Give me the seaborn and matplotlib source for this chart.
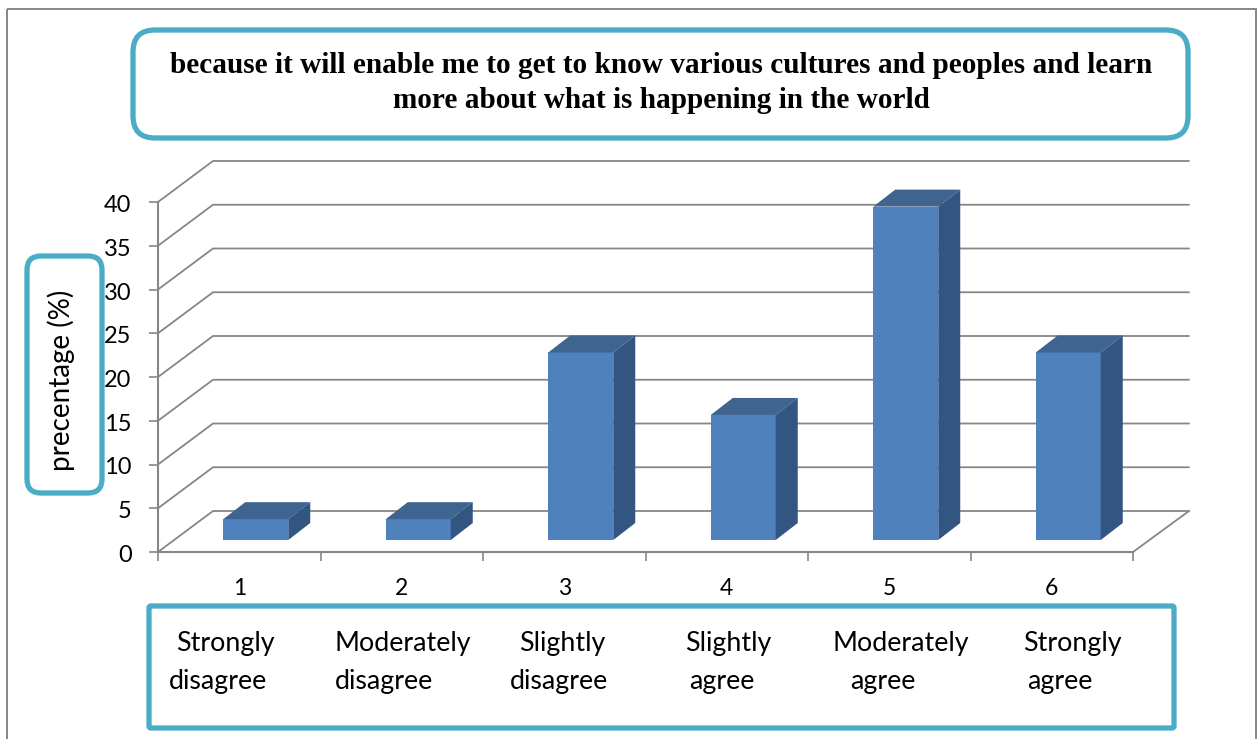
import matplotlib
matplotlib.use('Agg')
import matplotlib.pyplot as plt
import seaborn as sns
from matplotlib.patches import FancyBboxPatch, Polygon, Rectangle
from matplotlib.transforms import ScaledTranslation

# data
categories = ['1', '2', '3', '4', '5', '6']
values = [2.38, 2.38, 21.43, 14.29, 38.1, 21.43]
y_ticks = [0, 5, 10, 15, 20, 25, 30, 35, 40]
title_text = ('because it will enable me to get to know various cultures and peoples and learn\n'
              'more about what is happening in the world')
answer_lines = [('Strongly', 'disagree'), ('Moderately', 'disagree'), ('Slightly', 'disagree'),
                ('Slightly', 'agree'), ('Moderately', 'agree'), ('Strongly', 'agree')]
answer_x = [(225, 218), (403, 384), (562, 559), (728, 722), (901, 883), (1072, 1060)]

FRONT = '#4F81BD'
TOP = '#3F6490'
SIDE = '#335581'
GRID = '#868686'
TEAL = '#4BACC6'
DPI = 100

sns.set_theme(style='white')
plt.rcParams['font.family'] = ['Lato', 'DejaVu Sans']

fig = plt.figure(figsize=(12.6, 7.39), dpi=DPI)
ax = fig.add_axes([158 / 1260, 1 - 552 / 739, 975 / 1260, 350 / 739])


def shift(px, py):
    # pixel offset on top of the data coordinates
    return ax.transData + ScaledTranslation(px / DPI, py / DPI, fig.dpi_scale_trans)


sns.barplot(x=categories, y=values, width=0.4, color=FRONT, saturation=1, linewidth=0, ax=ax, zorder=4)
ax.set_xlim(-0.5, 5.5)
ax.set_ylim(0, 40)
ax.set_xlabel('')
ax.set_ylabel('')

# side wall and back wall lines, depth is 55px by 41px
for t in y_ticks:
    x0, y0 = ax.transData.transform((-0.5, t))
    x1, y1 = shift(55, 41).transform((-0.5, t))
    x2, y2 = shift(56, 41).transform((5.5, t))
    ax.plot([x0, x1, x2], [y0, y1, y2], color=GRID, lw=1.3, transform=None, zorder=1, clip_on=False)

x0, y0 = ax.transData.transform((5.5, 0))
x1, y1 = shift(56, 41).transform((5.5, 0))
ax.plot([x0, x1], [y0, y1], color=GRID, lw=1.3, transform=None, zorder=1, clip_on=False)

# move the fronts off the axis and add the top and side faces
for bar in list(ax.patches):
    bar.set_transform(shift(16.5, 12))
    bar.set_clip_on(False)
    left = bar.get_x()
    right = left + bar.get_width()
    h = bar.get_height()
    front = shift(16.5, 12)
    back = shift(16.5 + 22, 12 + 17)
    a = front.transform([(left, h), (right, h), (right, 0)])
    b = back.transform([(left, h), (right, h), (right, 0)])
    ax.add_patch(Polygon([a[0], a[1], b[1], b[0]], closed=True, fc=TOP, ec='none',
                         transform=None, zorder=4, clip_on=False))
    ax.add_patch(Polygon([a[1], b[1], b[2], a[2]], closed=True, fc=SIDE, ec='none',
                         transform=None, zorder=4, clip_on=False))

sns.despine(ax=ax)
for side in ['left', 'bottom']:
    ax.spines[side].set_color(GRID)
    ax.spines[side].set_linewidth(1.5)
ax.set_yticks(y_ticks)
ax.tick_params(axis='y', left=True, length=6.5, width=1.2, color=GRID, labelsize=17, pad=12.5, labelcolor='black')
ax.set_xticks(range(len(categories)))
ax.set_xticklabels(categories)
ax.set_xticks([i - 0.5 for i in range(len(categories) + 1)], minor=True)
ax.tick_params(axis='x', which='major', bottom=False, labelsize=16.5, pad=12.5, labelcolor='black')
ax.tick_params(axis='x', which='minor', bottom=True, length=6.5, width=1.2, color=GRID)

# y labels sit a little lower than their ticks
for label in ax.get_yticklabels():
    label.set_transform(label.get_transform() + ScaledTranslation(0, -1.5 / DPI, fig.dpi_scale_trans))

# decoration layer in image pixels
deco = fig.add_axes([0, 0, 1, 1], zorder=5)
deco.set_xlim(0, 1260)
deco.set_ylim(739, 0)
deco.axis('off')
deco.patch.set_alpha(0)

deco.add_patch(Rectangle((7, 9), 1249, 780, fc='none', ec=GRID, lw=1.4))
deco.add_patch(FancyBboxPatch((133, 30), 1055, 108, boxstyle='round,pad=0,rounding_size=22',
                              fc='white', ec=TEAL, lw=3.8))
deco.add_patch(FancyBboxPatch((27, 256), 75, 237, boxstyle='round,pad=0,rounding_size=14',
                              fc='white', ec=TEAL, lw=3.8))
deco.add_patch(FancyBboxPatch((149, 606), 1025, 122, boxstyle='round,pad=0,rounding_size=2',
                              fc='white', ec=TEAL, lw=3.8))

deco.text(661, 83, title_text, ha='center', va='center', family='Liberation Serif',
          weight='bold', fontsize=21.1, linespacing=1.41, color='black')
deco.text(61, 380, 'precentage (%)', rotation=90, ha='center', va='center', fontsize=20, color='black')

for lines, xs in zip(answer_lines, answer_x):
    deco.text(xs[0], 643, lines[0], ha='center', va='center', fontsize=19.3, color='black')
    deco.text(xs[1], 681, lines[1], ha='center', va='center', fontsize=19.3, color='black')

fig.savefig('out.png', dpi=DPI)
